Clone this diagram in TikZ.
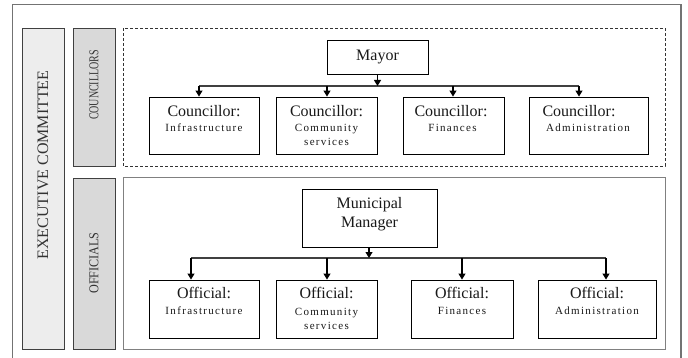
\documentclass[tikz,border=0pt]{standalone}
\usepackage{fontspec}
\usepackage{graphicx}
\setmainfont{Liberation Serif}
\usetikzlibrary{arrows.meta}
\newcommand\ttlfont{\fontsize{16}{19}\selectfont}
\newcommand\subfont{\fontsize{11}{13}\selectfont\addfontfeatures{LetterSpace=12}}
\begin{document}
\begin{tikzpicture}[x=1pt,y=-1pt,
  box/.style={draw=black,line width=0.9pt,fill=white,inner sep=0pt},
  ttl/.style={anchor=base,inner sep=0pt,text=black!90,font=\ttlfont},
  sub/.style={anchor=base,inner sep=0pt,text=black!90,font=\subfont},
  side/.style={rotate=90,inner sep=0pt,text=black!80,font=\ttlfont},
  sidesm/.style={rotate=90,inner sep=0pt,text=black!80,font=\fontsize{13.5}{16}\selectfont},
  bus/.style={draw=black!75,line width=1.1pt},
  conn/.style={draw=black,line width=1.1pt,-{Triangle[length=6pt,width=7pt]}}]
\useasboundingbox (0,0) rectangle (688,358);
% outer frame
\draw[black!55,line width=1.4pt] (12.5,360) -- (12.5,4.5) -- (681,4.5) -- (681,360);
% side bars
\draw[black!75,line width=0.9pt,fill=black!7] (22,28) rectangle (64,349);
\draw[black!75,line width=0.9pt,fill=black!15] (73,28) rectangle (115,166);
\draw[black!75,line width=0.9pt,fill=black!15] (73,178) rectangle (115,349);
\node[side] (lexec) at (43,165) {EXECUTIVE COMMITTEE};
\node[sidesm] (lcoun) at (94,85) {\scalebox{0.74}[1]{COUNCILLORS}};
\node[sidesm] (loff) at (94,263) {\scalebox{0.9}[1]{OFFICIALS}};
% group frames
\draw[black!80,line width=0.9pt,dash pattern=on 3pt off 2pt] (123,28) rectangle (665,166);
\draw[black!50,line width=0.9pt] (123,177) rectangle (665,349);
% councillors
\node[box,minimum width=101pt,minimum height=34pt] (mayor) at (377.5,57) {};
\node[ttl] (tmayor) at (377.5,61) {Mayor};
\node[box,minimum width=110pt,minimum height=57pt] (c1) at (204,125.5) {};
\node[box,minimum width=101pt,minimum height=57pt] (c2) at (326.5,125.5) {};
\node[box,minimum width=101pt,minimum height=57pt] (c3) at (453.5,125.5) {};
\node[box,minimum width=119pt,minimum height=57pt] (c4) at (588.5,125.5) {};
\node[ttl] (tc1) at (204,116.5) {Councillor:};
\node[sub] (sc1) at (204,131.5) {Infrastructure};
\node[ttl] (tc2) at (326.5,116.5) {Councillor:};
\node[sub] (sc2a) at (326.5,132) {Community};
\node[sub] (sc2b) at (326.5,146) {services};
\node[ttl] (tc3) at (451,116.5) {Councillor:};
\node[sub] (sc3) at (452.5,131.5) {Finances};
\node[ttl] (tc4) at (579,116.5) {Councillor:};
\node[sub] (sc4) at (588,131.5) {Administration};
\coordinate (mb) at (377.5,86);
\coordinate (cb1) at (199,86);
\coordinate (cb2) at (327,86);
\coordinate (cb3) at (453,86);
\coordinate (cb4) at (579,86);
\draw[bus] (cb1) -- (cb4);
\draw[conn] (mayor.south) -- (mb);
\draw[conn] (cb1) -- (cb1 |- c1.north);
\draw[conn] (cb2) -- (cb2 |- c2.north);
\draw[conn] (cb3) -- (cb3 |- c3.north);
\draw[conn] (cb4) -- (cb4 |- c4.north);
% officials
\node[box,minimum width=135pt,minimum height=58pt] (mgr) at (369.5,218) {};
\node[ttl] (tmgr1) at (369.5,208.5) {Municipal};
\node[ttl] (tmgr2) at (369.5,228) {Manager};
\node[box,minimum width=110pt,minimum height=58pt] (o1) at (204,309) {};
\node[box,minimum width=101pt,minimum height=58pt] (o2) at (326.5,309) {};
\node[box,minimum width=102pt,minimum height=58pt] (o3) at (462,309) {};
\node[box,minimum width=118pt,minimum height=58pt] (o4) at (597,309) {};
\node[ttl] (to1) at (204,298.5) {Official:};
\node[sub] (so1) at (204,314) {Infrastructure};
\node[ttl] (to2) at (326.5,298.5) {Official:};
\node[sub] (so2a) at (326.5,315) {Community};
\node[sub] (so2b) at (326.5,329) {services};
\node[ttl] (to3) at (462,298.5) {Official:};
\node[sub] (so3) at (462,314) {Finances};
\node[ttl] (to4) at (597,298.5) {Official:};
\node[sub] (so4) at (597,314) {Administration};
\coordinate (ob) at (369,258);
\coordinate (ob1) at (191,258);
\coordinate (ob2) at (327,258);
\coordinate (ob3) at (462,258);
\coordinate (ob4) at (606,258);
\draw[bus] (ob1) -- (ob4);
\draw[conn] (mgr.south -| ob) -- (ob);
\draw[conn] (ob1) -- (ob1 |- o1.north);
\draw[conn] (ob2) -- (ob2 |- o2.north);
\draw[conn] (ob3) -- (ob3 |- o3.north);
\draw[conn] (ob4) -- (ob4 |- o4.north);
\end{tikzpicture}
\end{document}
